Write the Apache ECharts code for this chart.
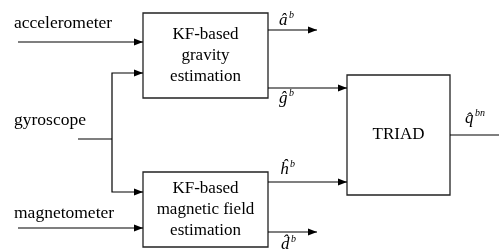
<!DOCTYPE html>
<html>
<head>
<meta charset="utf-8">
<script src="https://cdn.jsdelivr.net/npm/echarts@6/dist/echarts.min.js"></script>
<style>
    html, body { margin: 0; padding: 0; background: #fff; }
    #main { width: 499px; height: 252px; }
</style>
</head>
<body>
<div id="main"></div>
<script>
// 方框: [x0, y0, x1, y1]，坐标与图片像素一致
const blocks = [[143, 13, 268, 98], [143, 172, 268, 247], [347, 75, 450, 195]];
const blockText = ['KF-based\ngravity\nestimation', 'KF-based\nmagnetic field\nestimation', 'TRIAD'];

// 连线（最后一点带箭头与否）
const wires = [
    [[18, 42], [143, 42]],
    [[78, 139], [112, 139]],
    [[112, 139], [112, 73], [143, 73]],
    [[112, 139], [112, 192], [143, 192]],
    [[18, 228], [143, 228]],
    [[268, 30], [317, 30]],
    [[268, 88], [347, 88]],
    [[268, 182], [347, 182]],
    [[268, 232], [317, 232]],
    [[450, 135], [499, 135]]
];
const wireArrow = [true, false, true, true, true, true, true, true, true, false];

// 输入名称
const inputs = ['accelerometer', 'gyroscope', 'magnetometer'];
const inputPos = [[14, 23], [14, 120], [14, 213]];

// 输出符号
const outBase = ['a\u0302', 'g\u0302', 'h\u0302', 'd\u0302', 'q\u0302'];
const outSup = ['b', 'b', 'b', 'b', 'bn'];
const outPos = [[279, 21], [279, 99], [280, 170], [281, 245], [465, 119]];

const serif = '"Liberation Serif", "Times New Roman", serif';
const ink = '#000';

const chart = echarts.init(document.getElementById('main'));

function idx(arr) {
    return arr.map((_, i) => [i, 0]);
}

const option = {
    animation: false,
    grid: { left: 0, right: 0, top: 0, bottom: 0 },
    xAxis: { type: 'value', min: 0, max: 499, show: false },
    yAxis: { type: 'value', min: 0, max: 252, inverse: true, show: false },
    series: [
        {
            // 方框和框内文字
            type: 'custom',
            clip: false,
            data: idx(blocks),
            renderItem: function (params, api) {
                const b = blocks[params.dataIndex];
                const p0 = api.coord([b[0], b[1]]);
                const p1 = api.coord([b[2], b[3]]);
                return {
                    type: 'group',
                    children: [
                        {
                            type: 'rect',
                            shape: { x: p0[0], y: p0[1], width: p1[0] - p0[0], height: p1[1] - p0[1] },
                            style: { fill: '#fff', stroke: '#222', lineWidth: 1.3 }
                        },
                        {
                            type: 'text',
                            x: (p0[0] + p1[0]) / 2,
                            y: (p0[1] + p1[1]) / 2,
                            style: {
                                text: blockText[params.dataIndex],
                                font: '17px ' + serif,
                                lineHeight: 21,
                                fill: ink,
                                align: 'center',
                                verticalAlign: 'middle'
                            }
                        }
                    ]
                };
            }
        },
        {
            // 连线和箭头
            type: 'custom',
            clip: false,
            data: idx(wires),
            renderItem: function (params, api) {
                const pts = wires[params.dataIndex].map(p => api.coord(p));
                const children = [{
                    type: 'polyline',
                    shape: { points: pts },
                    style: { stroke: ink, lineWidth: 1.2, fill: null }
                }];
                if (wireArrow[params.dataIndex]) {
                    const a = pts[pts.length - 1];
                    const b = pts[pts.length - 2];
                    const len = Math.hypot(a[0] - b[0], a[1] - b[1]);
                    const ux = (a[0] - b[0]) / len;
                    const uy = (a[1] - b[1]) / len;
                    const L = 9, W = 3.5;
                    children.push({
                        type: 'polygon',
                        shape: {
                            points: [
                                a,
                                [a[0] - ux * L - uy * W, a[1] - uy * L + ux * W],
                                [a[0] - ux * L + uy * W, a[1] - uy * L - ux * W]
                            ]
                        },
                        style: { fill: ink }
                    });
                }
                return { type: 'group', children: children };
            }
        },
        {
            // 输入名称
            type: 'custom',
            clip: false,
            data: idx(inputs),
            renderItem: function (params, api) {
                const p = api.coord(inputPos[params.dataIndex]);
                return {
                    type: 'text',
                    x: p[0],
                    y: p[1],
                    style: {
                        text: inputs[params.dataIndex],
                        font: '17.5px ' + serif,
                        fill: ink,
                        align: 'left',
                        verticalAlign: 'middle'
                    }
                };
            }
        },
        {
            // 输出符号（带上标）
            type: 'custom',
            clip: false,
            data: idx(outBase),
            renderItem: function (params, api) {
                const i = params.dataIndex;
                const p = api.coord(outPos[i]);
                return {
                    type: 'group',
                    children: [
                        {
                            type: 'text',
                            x: p[0],
                            y: p[1],
                            style: {
                                text: outBase[i],
                                font: 'italic 17px ' + serif,
                                fill: ink,
                                align: 'left',
                                verticalAlign: 'middle'
                            }
                        },
                        {
                            type: 'text',
                            x: p[0] + 10,
                            y: p[1] - 6,
                            style: {
                                text: outSup[i],
                                font: 'italic 10px ' + serif,
                                fill: ink,
                                align: 'left',
                                verticalAlign: 'middle'
                            }
                        }
                    ]
                };
            }
        }
    ]
};

chart.setOption(option);
</script>
</body>
</html>
